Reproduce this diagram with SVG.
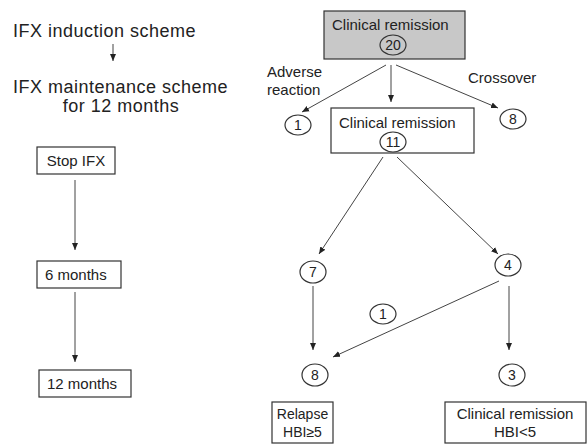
<svg xmlns="http://www.w3.org/2000/svg" width="587" height="445" viewBox="0 0 587 445">
<defs>
<marker id="ah" markerWidth="8" markerHeight="8" refX="7" refY="4" orient="auto" markerUnits="userSpaceOnUse">
<path d="M0,1 L7,4 L0,7 Z" fill="#222"/>
</marker>
</defs>
<style>
text{font-family:"Liberation Sans",Arial,sans-serif;fill:#222}
.big{font-size:18px;letter-spacing:0.5px}
.t{font-size:15px}
.s{font-size:15px}
.n{font-size:14px;text-anchor:middle}
.box{fill:#fff;stroke:#333;stroke-width:1.2}
.ell{fill:#fff;stroke:#333;stroke-width:1.2}
.c{stroke:#444;stroke-width:1;fill:none;marker-end:url(#ah)}
</style>
<rect width="587" height="445" fill="#fff"/>
<g id="connectors">
<line class="c" x1="113" y1="44" x2="113" y2="61"/>
<line class="c" x1="75" y1="180" x2="75" y2="250"/>
<line class="c" x1="75" y1="292" x2="75" y2="362"/>
<line class="c" x1="386" y1="65" x2="302" y2="112"/>
<line class="c" x1="391" y1="65" x2="391" y2="102"/>
<line class="c" x1="396" y1="65" x2="498" y2="108"/>
<line class="c" x1="383" y1="157" x2="319" y2="254"/>
<line class="c" x1="397" y1="157" x2="498" y2="254"/>
<line class="c" x1="313" y1="286" x2="313" y2="350"/>
<line class="c" x1="509" y1="286" x2="509" y2="350"/>
<line class="c" x1="499" y1="281" x2="333" y2="357"/>
</g>
<g id="induction"><text class="big" x="13" y="37">IFX induction scheme</text></g>
<g id="maintenance"><text class="big" x="13" y="93">IFX maintenance scheme</text><text class="big" x="121" y="112" text-anchor="middle">for 12 months</text></g>
<g id="stop"><rect class="box" x="37" y="147" width="78" height="27"/><text class="t" x="76" y="166" text-anchor="middle">Stop IFX</text></g>
<g id="m6"><rect class="box" x="37" y="261" width="84" height="27"/><text class="t" x="45" y="280">6 months</text></g>
<g id="m12"><rect class="box" x="39" y="370" width="92" height="27"/><text class="t" x="47" y="389">12 months</text></g>
<g id="top"><rect x="324" y="11" width="141" height="48" fill="#c8c8c8" stroke="#333" stroke-width="1.2"/><text class="t" x="332" y="30">Clinical remission</text><ellipse cx="393" cy="45" rx="13" ry="10" fill="none" stroke="#333" stroke-width="1.2"/><text class="n" x="393" y="50">20</text></g>
<g id="adverse"><text class="s" x="267" y="77">Adverse</text><text class="s" x="267" y="95">reaction</text></g>
<g id="crossover"><text class="s" x="468" y="83">Crossover</text></g>
<g id="n1"><ellipse class="ell" cx="298" cy="125" rx="13" ry="10"/><text class="n" x="298" y="130">1</text></g>
<g id="n8a"><ellipse class="ell" cx="513" cy="119" rx="13" ry="10"/><text class="n" x="513" y="124">8</text></g>
<g id="rem11"><rect class="box" x="331" y="108" width="143" height="45"/><text class="t" x="339" y="128">Clinical remission</text><ellipse class="ell" cx="393" cy="142" rx="13" ry="10"/><text class="n" x="393" y="147">11</text></g>
<g id="n7"><ellipse class="ell" cx="313" cy="272" rx="13" ry="11"/><text class="n" x="313" y="277">7</text></g>
<g id="n4"><ellipse class="ell" cx="508" cy="265" rx="13" ry="11"/><text class="n" x="508" y="270">4</text></g>
<g id="n1b"><ellipse class="ell" cx="383" cy="314" rx="13" ry="10"/><text class="n" x="383" y="319">1</text></g>
<g id="n8b"><ellipse class="ell" cx="315" cy="375" rx="13" ry="11"/><text class="n" x="315" y="380">8</text></g>
<g id="n3"><ellipse class="ell" cx="512" cy="375" rx="13" ry="11"/><text class="n" x="512" y="380">3</text></g>
<g id="relapse"><rect class="box" x="272" y="402" width="61" height="41"/><text x="302.5" y="419" text-anchor="middle" font-size="14">Relapse</text><text x="302.5" y="437" text-anchor="middle" font-size="14">HBI≥5</text></g>
<g id="remfinal"><rect class="box" x="445" y="402" width="141" height="41"/><text class="s" x="515" y="419" text-anchor="middle">Clinical remission</text><text class="s" x="515" y="437" text-anchor="middle">HBI&lt;5</text></g>
</svg>
